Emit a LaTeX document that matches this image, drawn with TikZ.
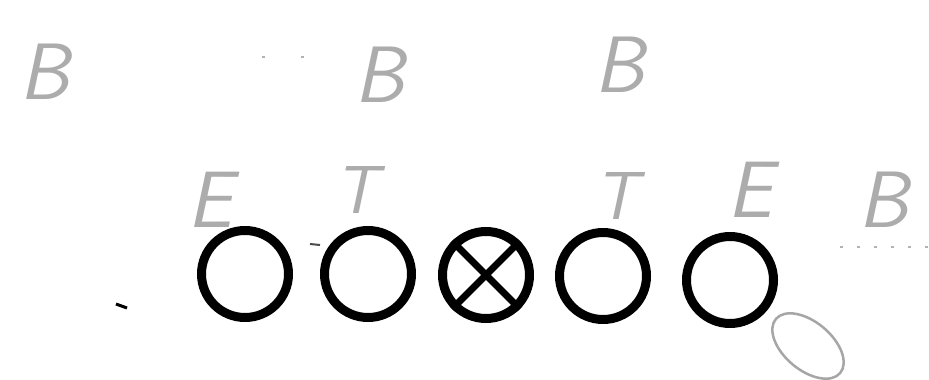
\documentclass[tikz,border=0pt]{standalone}
\usepackage{fontspec}
\begin{document}
\begin{tikzpicture}[x=1pt,y=-1pt,
  player/.style={circle,draw=black,line width=9pt,minimum size=87pt,inner sep=0pt},
  hand/.style={text=gray!65,font=\fontsize{80}{80}\selectfont\sffamily\itshape,inner sep=0pt},
  handsmall/.style={hand,font=\fontsize{68}{68}\selectfont\sffamily\itshape},
  faint/.style={draw=gray!60,line width=2pt},
  speck/.style={draw=black,line width=3pt}]
\useasboundingbox (0,0) rectangle (929,380);
\fill[white] (0,0) rectangle (929,380);
% line players
\node[player] (le) at (245,274) {};
\node[player] (lt) at (368,274) {};
\node[player] (c)  at (486,275) {};
\node[player] (rt) at (603,276) {};
\node[player] (re) at (730,280) {};
\draw[line width=7pt] (c.45) -- (c.225) (c.135) -- (c.315);
% labels
\node[hand] (lbe) at (210,200) {E};
\node[handsmall] (lbt) at (356,190) {T};
\node[handsmall] (rbt) at (616,196) {T};
\node[hand] (rbe) at (750,190) {E};
\node[hand] (b1) at (45,72) {B};
\node[hand] (b2) at (380,75) {B};
\node[hand] (b3) at (620,65) {B};
\node[hand] (b4) at (884,200) {B};
% ball / oval
\draw[draw=gray!70,line width=2.5pt,rotate around={-40:(808,346)}] (808,346) ellipse (42 and 24);
% specks
\coordinate (d1) at (840,247); \coordinate (d2) at (929,247);
\draw[faint,dash pattern=on 3pt off 14pt] (d1) -- (d2);
\coordinate (t1) at (262,57); \coordinate (t2) at (320,57);
\draw[faint,dash pattern=on 3pt off 36pt] (t1) -- (t2);
\coordinate (s1) at (116,304); \coordinate (s2) at (127,308);
\draw[speck] (s1) -- (s2);
\coordinate (s3) at (310,244); \coordinate (s4) at (320,245);
\draw[speck,line width=2pt,draw=black!70] (s3) -- (s4);
\end{tikzpicture}
\end{document}
